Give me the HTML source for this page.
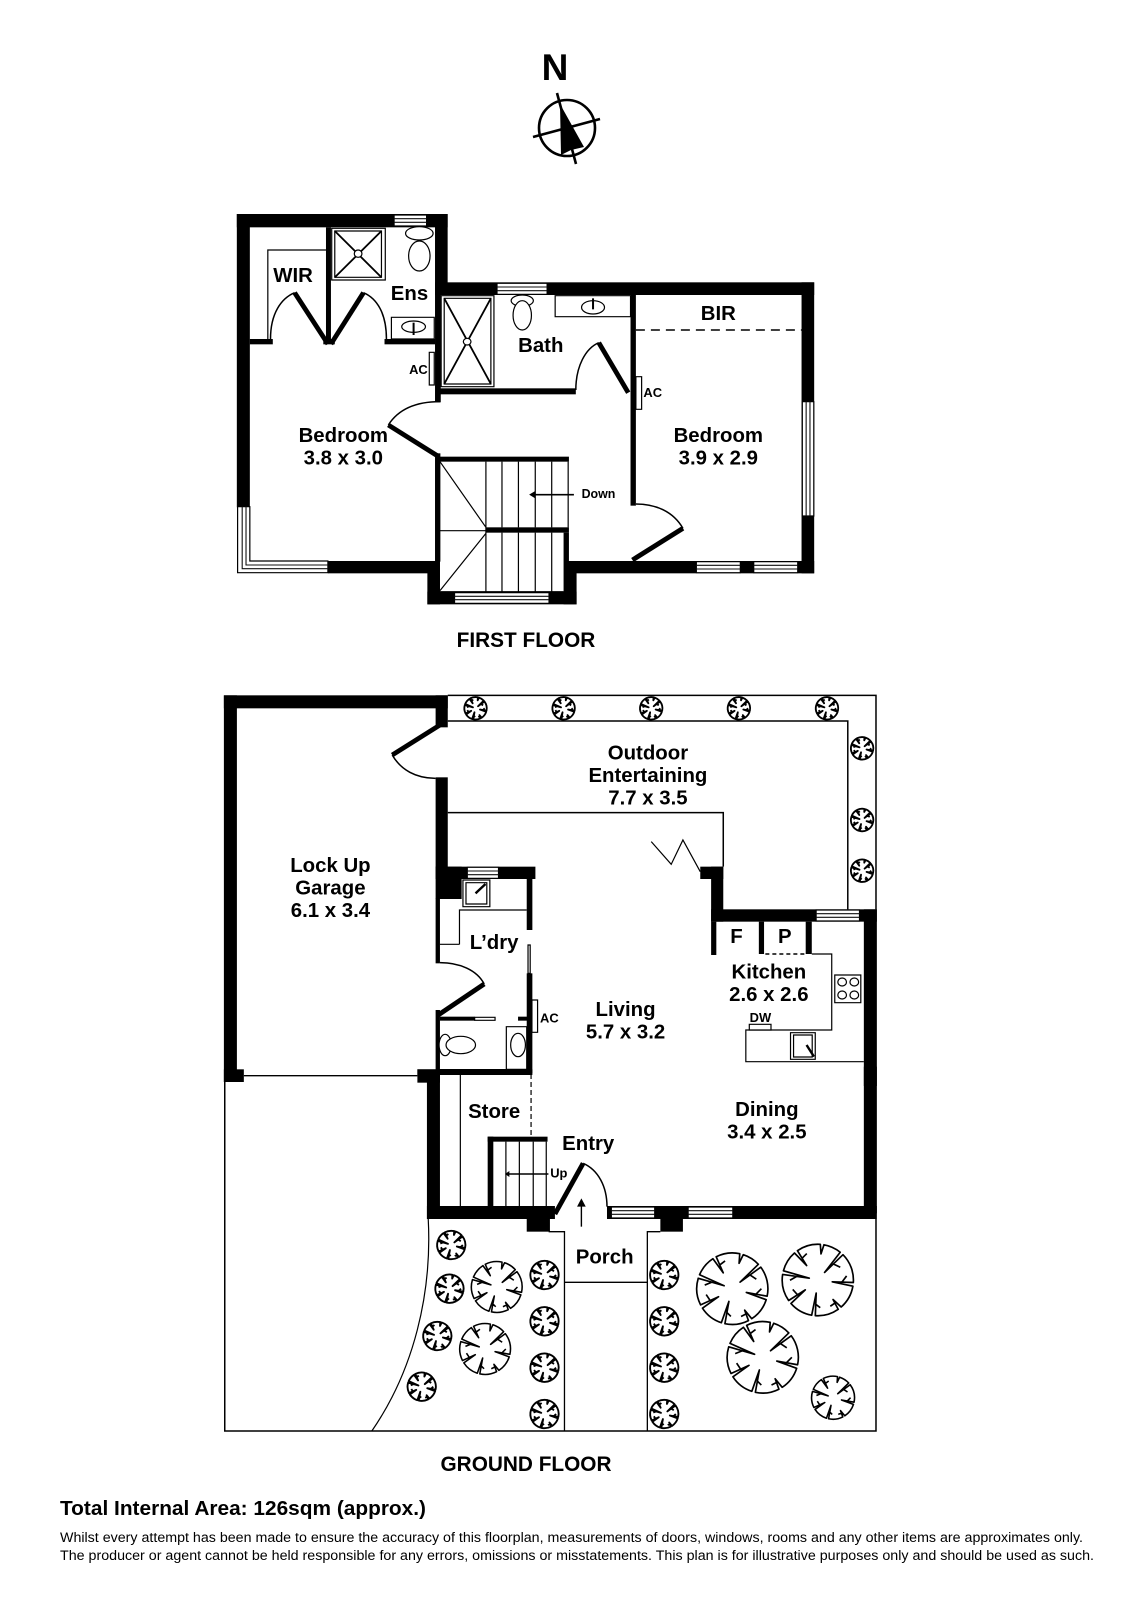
<!DOCTYPE html>
<html><head><meta charset="utf-8"><style>
html,body{margin:0;padding:0;background:#fff}
svg{display:block}
text{font-family:"Liberation Sans",sans-serif;font-weight:bold;fill:#000;text-anchor:middle;font-size:20.5px}
.z *{vector-effect:non-scaling-stroke}
.z rect,.z polygon{stroke:none;fill:#000}
.l *,.l{fill:none;stroke:#000;stroke-width:1.2}
.z .l rect{fill:#fff;stroke:#000;stroke-width:1.2}
.z .l ellipse,.z .l circle{fill:#fff}
.d *{fill:none;stroke:#000;stroke-width:4.8}
.a *{fill:none;stroke:#000;stroke-width:1.5}
.z .w{fill:#fff;stroke:#000;stroke-width:1.2}
.g{stroke:#111;stroke-width:1.1;fill:none}
.sm{font-size:13px}
.t use{fill:#fff;stroke:#000}
</style></head><body>
<svg width="1131" height="1600" viewBox="0 0 1131 1600" xmlns="http://www.w3.org/2000/svg">
<defs>
<path id="tr" stroke-linejoin="round" d="M46.6,15.1A49,49 0 0 1 26.7,41.1L17,29.4L22.2,43.7A49,49 0 0 1 -10.2,47.9L-4.7,17.4L-15.1,46.6A49,49 0 0 1 -41.1,26.7L-19,11L-43.7,22.2A49,49 0 0 1 -46.9,-14.3L-11.3,-4.1L-45.1,-19.1A49,49 0 0 1 -26.7,-41.1L-12.5,-21.7L-22.2,-43.7A49,49 0 0 1 10.2,-47.9L9.3,-34.8L15.1,-46.6A49,49 0 0 1 35.8,-33.4L10.7,-9L39.1,-29.5A49,49 0 0 1 47.9,10.2L19.3,5.2ZM-28,-9L-38,-5M24,-19L33,-13M32,8L40,0M-8,32L-2,38M-30,17L-36,8M-18,-32L-10,-38M20,34L12,38"/>
</defs>
<rect width="1131" height="1600" fill="#fff"/>

<!-- North -->
<text x="555" y="80" style="font-size:37px">N</text>
<circle cx="567" cy="128" r="28" fill="none" stroke="#000" stroke-width="2.6"/>
<line x1="557" y1="93" x2="576" y2="164" stroke="#000" stroke-width="2.6"/>
<line x1="533" y1="137" x2="600" y2="119" stroke="#000" stroke-width="2.6"/>
<polygon points="560,104 584,147 571,150 561,155" fill="#000"/>

<!-- FIRST FLOOR -->
<g class="z" transform="translate(220 200) scale(.3826 .33333)">
<rect x="44" y="42" width="34" height="880"/>
<rect x="44" y="42" width="551" height="40"/>
<rect x="562" y="42" width="33" height="243"/>
<rect x="562" y="247" width="991" height="38"/>
<rect x="1520" y="247" width="33" height="873"/>
<rect x="282" y="1083" width="280" height="37"/>
<rect x="912" y="1083" width="641" height="37"/>
<rect x="542" y="1083" width="33" height="130"/>
<rect x="898" y="1083" width="34" height="130"/>
<rect x="542" y="1175" width="390" height="38"/>
<rect x="562" y="285" width="15" height="322"/>
<rect x="562" y="760" width="14" height="325"/>
<rect x="575" y="565" width="355" height="18"/>
<rect x="1073" y="285" width="14" height="632"/>
<rect x="277" y="82" width="13" height="350"/>
<rect x="78" y="417" width="60" height="16"/>
<rect x="270" y="417" width="30" height="16"/>
<rect x="430" y="417" width="132" height="16"/>
<rect x="575" y="770" width="337" height="15"/>
<rect x="695" y="982" width="217" height="16"/>
<rect x="898" y="998" width="14" height="85"/>

<!-- windows -->
<g>
<rect class="w" x="455" y="45" width="85" height="33"/><path class="g" d="M455,56H540M455,67H540"/>
<rect class="w" x="724" y="250" width="131" height="33"/><path class="g" d="M724,261H855M724,272H855"/>
<rect class="w" x="613" y="1178" width="247" height="32"/><path class="g" d="M613,1189H860M613,1199H860"/>
<rect class="w" x="1245" y="1085" width="115" height="33"/><path class="g" d="M1245,1096H1360M1245,1107H1360"/>
<rect class="w" x="1395" y="1085" width="115" height="33"/><path class="g" d="M1395,1096H1510M1395,1107H1510"/>
<rect class="w" x="1522" y="605" width="30" height="343"/><path class="g" d="M1532,605V948M1542,605V948"/>
<path fill="#fff" stroke="#000" stroke-width="1.2" d="M46,920H78V1083H282V1118H46Z"/>
<path class="g" d="M58,920V1106H282M68,920V1095H282"/>
</g>

<!-- thin lines & fixtures -->
<g class="l">
<path d="M125,417V150H277"/>
<path d="M1087,390H1520" stroke-dasharray="9 6" style="stroke-width:1.5"/>
<rect x="292" y="85" width="140" height="155"/>
<rect x="300" y="93" width="122" height="139"/>
<path d="M300,93L422,232M422,93L300,232" style="stroke-width:1.8"/>
<ellipse cx="361" cy="161" rx="10" ry="11"/>
<rect x="578" y="287" width="138" height="273"/>
<rect x="586" y="295" width="122" height="257"/>
<path d="M586,295L708,552M708,295L586,552" style="stroke-width:1.8"/>
<ellipse cx="646" cy="425" rx="10" ry="10"/>
<ellipse cx="521" cy="100" rx="36" ry="20"/>
<ellipse cx="521" cy="168" rx="28" ry="45"/>
<ellipse cx="790" cy="302" rx="29" ry="17"/>
<ellipse cx="790" cy="346" rx="24" ry="44"/>
<rect x="448" y="352" width="112" height="65"/>
<ellipse cx="506" cy="380" rx="31" ry="17"/>
<path d="M506,368V405" style="stroke-width:2"/>
<rect x="876" y="287" width="197" height="63"/>
<ellipse cx="975" cy="322" rx="30" ry="20"/>
<path d="M975,295V328" style="stroke-width:2"/>
<rect x="547" y="457" width="13" height="98"/>
<rect x="1087" y="530" width="15" height="98"/>
<!-- stairs -->
<path d="M575,785L695,982M575,992H695M575,1172L695,1000M695,785V1175M575,1175H898"/>
<path d="M737,785V982M780,785V982M824,785V982M867,785V982M910,785V982" />
<path d="M737,998V1175M780,998V1175M824,998V1175M867,998V1175" />
<path d="M925,884H815" style="stroke-width:1.6"/>
</g>
<polygon points="808,884 824,873 824,895"/>
<!-- doors -->
<g class="d">
<path d="M195,278L282,432"/>
<path d="M375,278L290,432"/>
<path d="M990,428L1067,578"/>
<path d="M1210,985L1078,1080"/>
<path d="M440,675L572,770"/>
</g>
<g class="a">
<path d="M195,278C160,295 132,340 132,417"/>
<path d="M375,278C410,295 435,340 435,417"/>
<path d="M990,428C955,445 930,500 930,570"/>
<path d="M1087,912C1140,912 1185,935 1210,985"/>
<path d="M575,605C510,605 465,630 440,675"/>
</g>
</g>
<g transform="translate(1.166 0) scale(.9947 1)">
<text x="293.5" y="282">WIR</text>
<text x="410.5" y="300">Ens</text>
<text x="542.5" y="352">Bath</text>
<text x="721" y="320">BIR</text>
<text x="344" y="442">Bedroom</text>
<text x="344" y="464.5">3.8 x 3.0</text>
<text x="721" y="442">Bedroom</text>
<text x="721" y="464.5">3.9 x 2.9</text>
<text class="sm" x="419.5" y="374">AC</text>
<text class="sm" x="655" y="397">AC</text>
<text class="sm" x="600.5" y="498" style="font-size:12.5px">Down</text>
</g>
<text x="526" y="647" style="font-size:20.8px">FIRST FLOOR</text>

<!-- GROUND FLOOR upper -->
<g class="z" transform="translate(210 680) scale(.43387 .33333)">
<rect x="32" y="46" width="30" height="1160"/>
<rect x="32" y="46" width="516" height="39"/>
<rect x="520" y="46" width="28" height="96"/>
<rect x="520" y="292" width="28" height="270"/>
<rect x="520" y="560" width="60" height="97"/>
<rect x="520" y="560" width="230" height="37"/>
<rect x="520" y="655" width="10" height="195"/>
<rect x="520" y="990" width="10" height="210"/>
<rect x="730" y="597" width="13" height="153"/>
<rect x="730" y="880" width="13" height="300"/>
<rect x="530" y="1010" width="80" height="12"/>
<rect x="710" y="1010" width="25" height="12"/>
<rect x="478" y="1168" width="265" height="17"/>
<rect x="478" y="1168" width="52" height="40"/>
<rect x="32" y="1168" width="46" height="38"/>
<rect x="1130" y="560" width="53" height="37"/>
<rect x="1155" y="560" width="28" height="165"/>
<rect x="1155" y="688" width="382" height="37"/>
<rect x="1507" y="688" width="30" height="530"/>
<rect x="1155" y="725" width="12" height="100"/>
<rect x="1265" y="725" width="12" height="97"/>
<rect x="1373" y="725" width="14" height="97"/>
<g>
<rect class="w" x="593" y="562" width="72" height="33"/><path class="g" d="M593,573H665M593,584H665"/>
<rect class="w" x="1397" y="690" width="100" height="33"/><path class="g" d="M1397,701H1497M1397,712H1497"/>
</g>
<g class="l">
<path d="M548,46H1535V688M548,123H1470V688M548,398H1183V560" style="stroke-width:1.5"/>
<path d="M1017,485L1063,553L1090,480L1130,575"/>
<path d="M1387,822H1433V1050H1235V1145H1507"/>
<path d="M1280,822H1373" stroke-dasharray="4 3" style="stroke-width:1.6"/>
<rect x="1243" y="1033" width="50" height="17"/>
<rect x="1440" y="885" width="60" height="83"/>
<ellipse cx="1457" cy="906" rx="10" ry="12"/><ellipse cx="1485" cy="906" rx="10" ry="12"/>
<ellipse cx="1457" cy="945" rx="10" ry="12"/><ellipse cx="1485" cy="945" rx="10" ry="12"/>
<rect x="1338" y="1058" width="57" height="80"/>
<rect x="1345" y="1065" width="43" height="66"/>
<path d="M1375,1095L1392,1130" style="stroke-width:2.4"/>
<rect x="583" y="600" width="62" height="80"/>
<rect x="590" y="608" width="48" height="64"/>
<path d="M612,640L635,612" style="stroke-width:2.4"/>
<path d="M575,793V690H730M530,793H575"/>
<rect x="733" y="795" width="5" height="85"/>
<rect x="610" y="1012" width="47" height="9"/>
<rect x="742" y="960" width="13" height="97"/>
<rect x="683" y="1040" width="47" height="128"/>
<ellipse cx="710" cy="1095" rx="17" ry="35"/>
<ellipse cx="542" cy="1095" rx="14" ry="32"/>
<ellipse cx="578" cy="1095" rx="34" ry="26"/>
<path d="M78,1187H478" style="stroke-width:1.3"/>
</g>
<g class="d">
<path d="M530,135L420,225"/>
<path d="M632,912L526,1005"/>
</g>
<g class="a">
<path d="M420,225C440,270 475,295 520,295"/>
<path d="M530,848C575,848 615,870 632,912"/>
</g>
</g>

<!-- GROUND FLOOR lower -->
<g class="z" transform="translate(210 1060) scale(.43387 .33333)">
<rect x="500" y="40" width="30" height="437"/>
<rect x="528" y="27" width="212" height="15"/>
<rect x="500" y="438" width="295" height="39"/>
<rect x="915" y="438" width="622" height="39"/>
<rect x="1507" y="20" width="30" height="440"/>
<rect x="730" y="477" width="52" height="38"/>
<rect x="1038" y="477" width="52" height="38"/>
<rect x="640" y="230" width="138" height="15"/>
<rect x="640" y="230" width="13" height="210"/>
<g>
<rect class="w" x="925" y="441" width="100" height="33"/><path class="g" d="M925,452H1025M925,463H1025"/>
<rect class="w" x="1102" y="441" width="103" height="33"/><path class="g" d="M1102,452H1205M1102,463H1205"/>
</g>
<g class="l">
<path d="M34,65V1113H1535V477" style="stroke-width:1.5"/>
<path d="M503,477C512,700 470,930 373,1113"/>
<path d="M577,42V438"/>
<path d="M740,42V230" stroke-dasharray="5 3"/>
<path d="M682,245V438M713,245V438M745,245V438M775,245V438"/>
<path d="M780,342H685" style="stroke-width:1.4"/>
<path d="M782,477V515H817V1113M1038,515H1008V1113M817,667H1008" style="stroke-width:1.3"/>
<path d="M856,500V430" style="stroke-width:1.4"/>
</g>
<polygon points="680,342 690,333 690,351"/>
<polygon points="856,415 846,440 866,440"/>
<g class="d"><path d="M860,310L795,462"/></g>
<g class="a"><path d="M860,310C895,330 915,380 915,440"/></g>
</g>

<!-- plants -->
<g class="t" transform="translate(.987 0) scale(.9953 1)">
<g stroke-width="8">
<use href="#tr" transform="translate(476.8 708.3) scale(.23)"/>
<use href="#tr" transform="translate(565.3 708.3) scale(.23)"/>
<use href="#tr" transform="translate(653.3 708.3) scale(.23)"/>
<use href="#tr" transform="translate(741.4 708.3) scale(.23)"/>
<use href="#tr" transform="translate(829.9 708.3) scale(.23)"/>
<use href="#tr" transform="translate(865.2 748.3) scale(.23)"/>
<use href="#tr" transform="translate(865.2 820) scale(.23)"/>
<use href="#tr" transform="translate(865.2 870.7) scale(.23)"/>
</g>
<g stroke-width="6.5">
<use href="#tr" transform="translate(452.4 1245) scale(.29)"/>
<use href="#tr" transform="translate(450.6 1288.7) scale(.29)"/>
<use href="#tr" transform="translate(438.4 1336) scale(.29)"/>
<use href="#tr" transform="translate(422.7 1386.7) scale(.29)"/>
<use href="#tr" transform="translate(546.1 1275) scale(.29)"/>
<use href="#tr" transform="translate(546.1 1321.3) scale(.29)"/>
<use href="#tr" transform="translate(546.1 1367.7) scale(.29)"/>
<use href="#tr" transform="translate(546.1 1414) scale(.29)"/>
<use href="#tr" transform="translate(666.4 1275) scale(.29)"/>
<use href="#tr" transform="translate(666.4 1321.3) scale(.29)"/>
<use href="#tr" transform="translate(666.4 1367.7) scale(.29)"/>
<use href="#tr" transform="translate(666.4 1414) scale(.29)"/>
</g>
<use href="#tr" stroke-width="3.6" transform="translate(836 1397.7) scale(.44)"/>
<use href="#tr" stroke-width="3" transform="translate(498.1 1287) scale(.52)"/>
<use href="#tr" stroke-width="3" transform="translate(486.4 1349) scale(.52)"/>
<use href="#tr" stroke-width="2.3" transform="translate(734.8 1288.7) scale(.73)"/>
<use href="#tr" stroke-width="2.3" transform="translate(820.7 1280) scale(.73) rotate(-8)"/>
<use href="#tr" stroke-width="2.3" transform="translate(765.4 1357.3) scale(.73)"/>
</g>

<g transform="translate(.987 0) scale(.9953 1)">
<text x="650" y="759.5">Outdoor</text>
<text x="650" y="782">Entertaining</text>
<text x="650" y="804.5">7.7 x 3.5</text>
<text x="331" y="872">Lock Up</text>
<text x="331" y="894.5">Garage</text>
<text x="331" y="917">6.1 x 3.4</text>
<text x="495.5" y="949">L’dry</text>
<text x="739" y="943">F</text>
<text x="787.5" y="943">P</text>
<text x="771.5" y="978.5">Kitchen</text>
<text x="771.5" y="1001">2.6 x 2.6</text>
<text class="sm" x="763" y="1022">DW</text>
<text class="sm" x="551" y="1022.5">AC</text>
<text x="627.5" y="1016">Living</text>
<text x="627.5" y="1038.5">5.7 x 3.2</text>
<text x="495.5" y="1118">Store</text>
<text x="769.5" y="1116">Dining</text>
<text x="769.5" y="1138.5">3.4 x 2.5</text>
<text x="590" y="1150">Entry</text>
<text class="sm" x="560.5" y="1177.5">Up</text>
<text x="606.5" y="1263.5">Porch</text>
</g>
<text x="526" y="1471" style="font-size:20.8px">GROUND FLOOR</text>

<text x="60" y="1515" textLength="366" lengthAdjust="spacingAndGlyphs" style="text-anchor:start;font-size:20.5px">Total Internal Area: 126sqm (approx.)</text>
<text x="60" y="1542" textLength="1023" lengthAdjust="spacingAndGlyphs" style="text-anchor:start;font-size:13.5px;font-weight:normal">Whilst every attempt has been made to ensure the accuracy of this floorplan, measurements of doors, windows, rooms and any other items are approximates only.</text>
<text x="60" y="1560" textLength="1034" lengthAdjust="spacingAndGlyphs" style="text-anchor:start;font-size:13.5px;font-weight:normal">The producer or agent cannot be held responsible for any errors, omissions or misstatements. This plan is for illustrative purposes only and should be used as such.</text>
</svg>
</body></html>
